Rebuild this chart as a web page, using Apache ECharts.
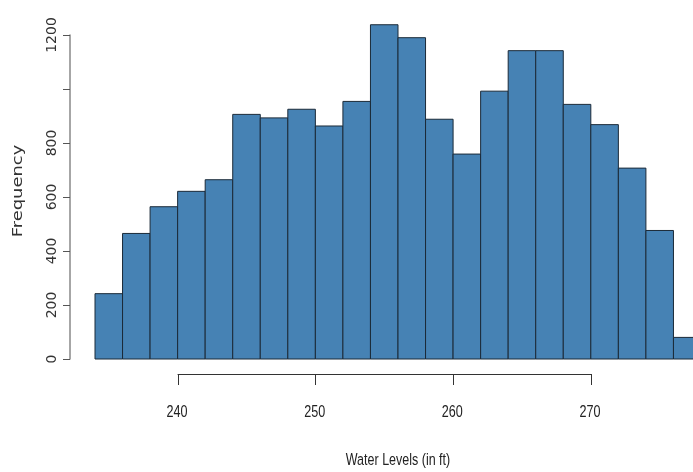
<!DOCTYPE html>
<html>
<head>
<meta charset="utf-8">
<script src="https://cdn.jsdelivr.net/npm/echarts@6/dist/echarts.min.js"></script>
<style>
  html, body { margin: 0; padding: 0; background: #fff; }
  #hist { width: 693px; height: 472px; }
</style>
</head>
<body>
<div id="hist"></div>
<script>
// bin edges (ft) and counts
const binStarts = [234, 236, 238, 240, 242, 244, 246, 248, 250, 252, 254,
                   256, 258, 260, 262, 264, 266, 268, 270, 272, 274, 276];
const binWidth = 2;
const counts = [242, 465, 564, 621, 664, 906, 893, 925, 863, 954, 1238,
                1190, 888, 759, 992, 1142, 1142, 943, 868, 707, 476, 80];
const yTicks = [0, 200, 400, 600, 800, 1000, 1200];
const xTicks = [240, 250, 260, 270];
const xTitle = 'Water Levels (in ft)';
const yTitle = 'Frequency';

const histData = binStarts.map((s, i) => [s, s + binWidth, counts[i]]);

const chart = echarts.init(document.getElementById('hist'));
chart.setOption({
  animation: false,
  grid: [
    // bars
    { left: 95, right: -8, top: 35, bottom: 113, outerBoundsMode: 'none', containLabel: false },
    // R style x axis that only runs from 240 to 270
    { left: 178, right: 102, top: 373, height: 1, outerBoundsMode: 'none', containLabel: false }
  ],
  xAxis: [
    {
      type: 'value', gridIndex: 0, min: 234, max: 278, show: false
    },
    {
      type: 'value', gridIndex: 1, min: xTicks[0], max: xTicks[xTicks.length - 1], interval: 10,
      axisLine: { show: true, lineStyle: { color: '#333', width: 1 } },
      axisTick: { show: true, length: 11, lineStyle: { color: '#333' } },
      axisLabel: { show: false },
      splitLine: { show: false }
    }
  ],
  yAxis: [
    {
      type: 'value', gridIndex: 0, min: yTicks[0], max: yTicks[yTicks.length - 1], interval: 200,
      offset: 25,
      axisLine: { show: true, lineStyle: { color: '#888', width: 1.5 } },
      axisTick: { show: true, length: 7, lineStyle: { color: '#555' } },
      axisLabel: {
        rotate: 90, margin: 11, fontFamily: 'DejaVu Sans', fontSize: 14, color: '#333',
        formatter: v => (v === 1000 ? '' : String(v))   // R drops this one (overlap)
      },
      splitLine: { show: false }
    },
    { type: 'value', gridIndex: 1, show: false, min: 0, max: 1 }
  ],
  series: [
    {
      type: 'custom', xAxisIndex: 0, yAxisIndex: 0, clip: false,
      data: histData,
      encode: { x: [0, 1], y: 2 },
      renderItem: function (params, api) {
        const p0 = api.coord([api.value(0), 0]);
        const p1 = api.coord([api.value(1), api.value(2)]);
        return {
          type: 'rect',
          shape: { x: p0[0], y: p1[1], width: p1[0] - p0[0], height: p0[1] - p1[1] },
          style: { fill: '#4682B4', stroke: '#1b2a38', lineWidth: 1 }
        };
      }
    }
  ]
});

// the picture's text is stretched vertically, so the x labels and titles
// are drawn as scaled text placed with the axis scale
const stretch = 1.37;
const txt = (text, x, y, size, extra) => Object.assign({
  type: 'text', x: x, y: y, scaleY: stretch,
  style: { text: text, fontFamily: 'Liberation Sans', fontSize: size, fill: '#222',
           align: 'center', verticalAlign: 'middle' }
}, extra || {});

const graphics = xTicks.map(v =>
  txt(String(v), chart.convertToPixel({ xAxisIndex: 1 }, v) - 1, 412, 12.6));
const mid = (chart.convertToPixel({ xAxisIndex: 0 }, 234) + chart.convertToPixel({ xAxisIndex: 0 }, 278)) / 2;
graphics.push(txt(xTitle, mid, 460, 12.5));
graphics.push({
  type: 'text', x: 18, y: 191, rotation: Math.PI / 2, scaleX: 1.28,
  style: { text: yTitle, fontFamily: 'DejaVu Sans', fontSize: 14, fill: '#333',
           align: 'center', verticalAlign: 'middle' }
});
chart.setOption({ graphic: graphics });
</script>
</body>
</html>
